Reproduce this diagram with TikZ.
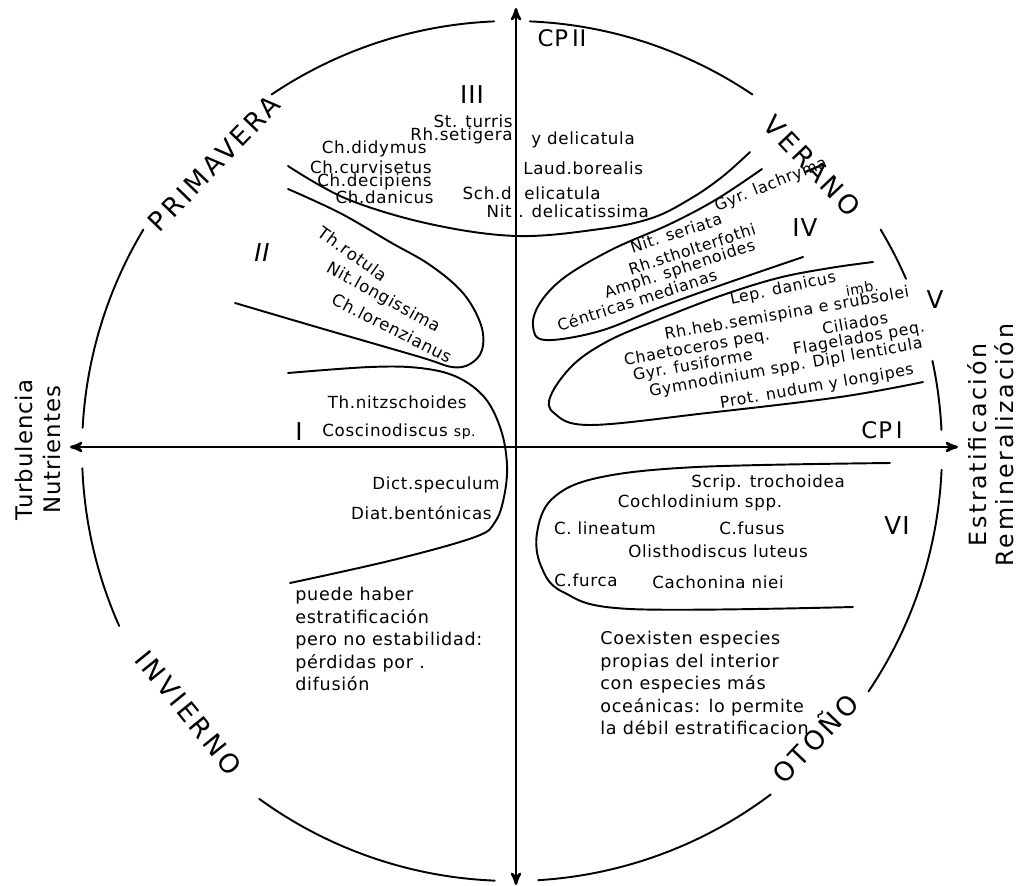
\documentclass[tikz,border=0pt]{standalone}
\usepackage{fontspec}
\setmainfont{DejaVu Sans}[LetterSpace=4]
\newfontfamily\seasonfont{DejaVu Sans}[LetterSpace=12]
\newfontfamily\widefont{DejaVu Sans}[LetterSpace=11]
\usetikzlibrary{arrows,calc,positioning}

\begin{document}
\begin{tikzpicture}[x=0.02cm,y=-0.02cm,>=stealth',line cap=round,
  spec node/.style={font=\fontsize{9.5}{11}\selectfont,inner sep=0pt},
  small node/.style={font=\fontsize{9}{10}\selectfont,inner sep=0pt},
  note node/.style={font=\fontsize{10}{12.8}\selectfont,align=left,inner sep=0pt,anchor=north west},
  roman node/.style={font=\fontsize{14}{16}\selectfont,inner sep=0pt},
  season node/.style={font=\seasonfont\fontsize{15}{18}\selectfont,inner sep=0pt},
  cp node/.style={font=\fontsize{13}{15}\selectfont,inner sep=0pt},
  side node/.style={font=\fontsize{13}{15}\selectfont,inner sep=0pt,rotate=90},
  wide side node/.style={font=\widefont\fontsize{13.5}{15}\selectfont,inner sep=0pt,rotate=90},
  ring/.style={line width=1.1pt},
  zone/.style={line width=1.1pt},
  axis line/.style={<->,line width=1.4pt}]

  \useasboundingbox (0,0) rectangle (1018,886);

  % centre and axis ends
  \coordinate (O) at (512,451);
  \coordinate (W) at (70,447);
  \coordinate (E) at (958,447);
  \coordinate (N) at (516,8);
  \coordinate (S) at (516,885);

  \draw[axis line] (W) -- (E);
  \draw[axis line] (S) -- (N);

  % the year circle, broken at the labels
  \draw[ring]
    (O) ++(-87.6:430) arc[start angle=-87.6,end angle=-56,radius=430]
    (O) ++(-31:430) arc[start angle=-31,end angle=-23.6,radius=430]
    (O) ++(-12.1:430) arc[start angle=-12.1,end angle=-2.8,radius=430]
    (O) ++(2.5:430) arc[start angle=2.5,end angle=34,radius=430]
    (O) ++(53:430) arc[start angle=53,end angle=86.5,radius=430]
    (O) ++(92.3:430) arc[start angle=92.3,end angle=126,radius=430]
    (O) ++(156:430) arc[start angle=156,end angle=177.7,radius=430]
    (O) ++(-176.9:430) arc[start angle=-176.9,end angle=-149,radius=430]
    (O) ++(-124:430) arc[start angle=-124,end angle=-92.4,radius=430];

  \node[season node,rotate=46] (spring) at ($(O)+(-136:414)$) {PRIMAVERA};
  \node[season node,rotate=-46.5] (summer) at ($(O)+(-43.5:414)$) {VERANO};
  \node[season node,rotate=46.5] (autumn) at ($(O)+(43.5:416)$) {OTOÑO};
  \node[season node,rotate=-51] (winter) at ($(O)+(141:416)$) {INVIERNO};

  \node[cp node] (cp2) at (562,38) {CP\,II};
  \node[cp node] (cp1) at (882,430) {CP\,I};

  \node[side node] (turb) at (24,450) {Turbulencia};
  \node[side node] (nutr) at (52,450) {Nutrientes};
  \node[wide side node] (estr) at (977,445) {Estratificación};
  \node[wide side node] (remi) at (1004,445) {Remineralización};

  % zone boundaries
  \draw[zone] plot[smooth,tension=0.6] coordinates {(288,166) (347,199) (430,224) (517,236) (600,229) (652,218) (690,199) (722,177) (750,152)};
  \draw[zone] plot[smooth,tension=0.6] coordinates {(288,189) (340,213) (390,242) (430,265) (463,293) (481,325) (482,350) (470,364) (452,367) (420,357) (320,328) (235,303)};
  \draw[zone] plot[smooth,tension=0.6] coordinates {(288,373) (370,367) (420,368) (457,377) (485,398) (501,430) (507,465) (504,497) (495,522) (475,537) (393,560) (290,583)};
  \draw[zone] plot[smooth,tension=0.6] coordinates {(762,169) (717,199) (670,224) (613,249) (565,277) (540,303) (533,326) (545,340) (600,331) (663,306) (730,282) (803,257)};
  \draw[zone] plot[smooth,tension=0.6] coordinates {(873,262) (830,268) (778,278) (720,296) (660,319) (610,340) (574,364) (551,395) (554,413) (590,425) (707,413) (840,397) (923,382)};
  \draw[zone] plot[smooth,tension=0.6] coordinates {(890,463) (697,467) (597,478) (552,499) (537,533) (541,566) (563,592) (630,609) (853,607)};

  % III
  \node[roman node] (num3) at (472,95) {III};
  \node[spec node,anchor=east] (turris) at (513,121) {St. turris};
  \node[spec node,anchor=east] (setigera) at (513,136) {Rh.setigera};
  \node[spec node,anchor=west] (ydelic) at (531,140) {y delicatula};
  \node[spec node,anchor=east] (didymus) at (427,149) {Ch.didymus};
  \node[spec node,anchor=east] (curvisetus) at (432,167) {Ch.curvisetus};
  \node[spec node,anchor=east] (decipiens) at (432,182) {Ch.decipiens};
  \node[spec node,anchor=east] (danicus) at (434,197) {Ch.danicus};
  \node[spec node,anchor=west] (borealis) at (523,168) {Laud.borealis};
  \node[spec node,anchor=east] (schd) at (512,193) {Sch.d};
  \node[spec node,anchor=west] (schdelic) at (524,193) {elicatula};
  \node[spec node,anchor=east] (nit) at (512,211) {Nit};
  \node[spec node,anchor=west] (nitdelic) at (518,211) {. delicatissima};

  % II
  \node[roman node] (num2) at (262,253) {\itshape II};
  \node[spec node,rotate=-36] (rotula) at (353,254) {Th.rotula};
  \node[spec node,rotate=-29] (longissima) at (383,298) {Nit.longissima};
  \node[spec node,rotate=-27] (lorenzianus) at (392,328) {Ch.lorenzianus};

  % I
  \node[roman node] (num1) at (299,432) {I};
  \node[spec node,anchor=east] (nitzsch) at (467,402) {Th.nitzschoides};
  \node[spec node,anchor=west] (coscino) at (322,432) {Coscinodiscus {\fontsize{8}{9}\selectfont sp.}};
  \node[spec node,anchor=east] (speculum) at (500,485) {Dict.speculum};
  \node[spec node,anchor=east] (bentonicas) at (492,513) {Diat.bentónicas};
  \node[note node] (noteI) at (295,587) {puede haber\\estratificación\\pero no estabilidad:\\pérdidas por .\\difusión};

  % IV
  \node[roman node] (num4) at (805,228) {IV};
  \node[small node,rotate=22] (lachryma) at (771,185) {Gyr. lachryma};
  \node[small node,rotate=18] (seriata) at (676,233) {Nit. seriata};
  \node[small node,rotate=18] (stholter) at (692,249) {Rh.stholterfothi};
  \node[small node,rotate=18] (sphenoides) at (680,270) {Amph. sphenoides};
  \node[small node,rotate=18] (centricas) at (637,300) {Céntricas medianas};

  % V
  \node[roman node] (num5) at (935,300) {V};
  \node[small node,rotate=12] (lepdanicus) at (783,289) {Lep. danicus};
  \node[small node,rotate=10,font=\fontsize{8}{9}\selectfont] (imb) at (862,288) {imb.};
  \node[small node,rotate=10] (semispina) at (787,314) {Rh.heb.semispina e srubsolei};
  \node[small node,rotate=10] (chaeto) at (697,348) {Chaetoceros peq.};
  \node[small node,rotate=10] (ciliados) at (855,323) {Ciliados};
  \node[small node,rotate=10] (fusiforme) at (693,366) {Gyr. fusiforme};
  \node[small node,rotate=10] (flagelados) at (859,339) {Flagelados peq.};
  \node[small node,rotate=10] (gymno) at (786,368) {Gymnodinium spp. Dipl lenticula};
  \node[small node,rotate=10] (longipes) at (817,387) {Prot. nudum y longipes};

  % VI
  \node[roman node] (num6) at (897,526) {VI};
  \node[spec node] (scrip) at (768,483) {Scrip. trochoidea};
  \node[spec node] (cochlo) at (700,503) {Cochlodinium spp.};
  \node[spec node] (lineatum) at (605,528) {C. lineatum};
  \node[spec node] (fusus) at (752,528) {C.fusus};
  \node[spec node] (olistho) at (718,551) {Olisthodiscus luteus};
  \node[spec node] (furca) at (586,580) {C.furca};
  \node[spec node] (cachonina) at (718,582) {Cachonina niei};
  \node[note node] (noteVI) at (600,631) {Coexisten especies\\propias del interior\\con especies más\\oceánicas: lo permite\\la débil estratificacion};

\end{tikzpicture}
\end{document}
